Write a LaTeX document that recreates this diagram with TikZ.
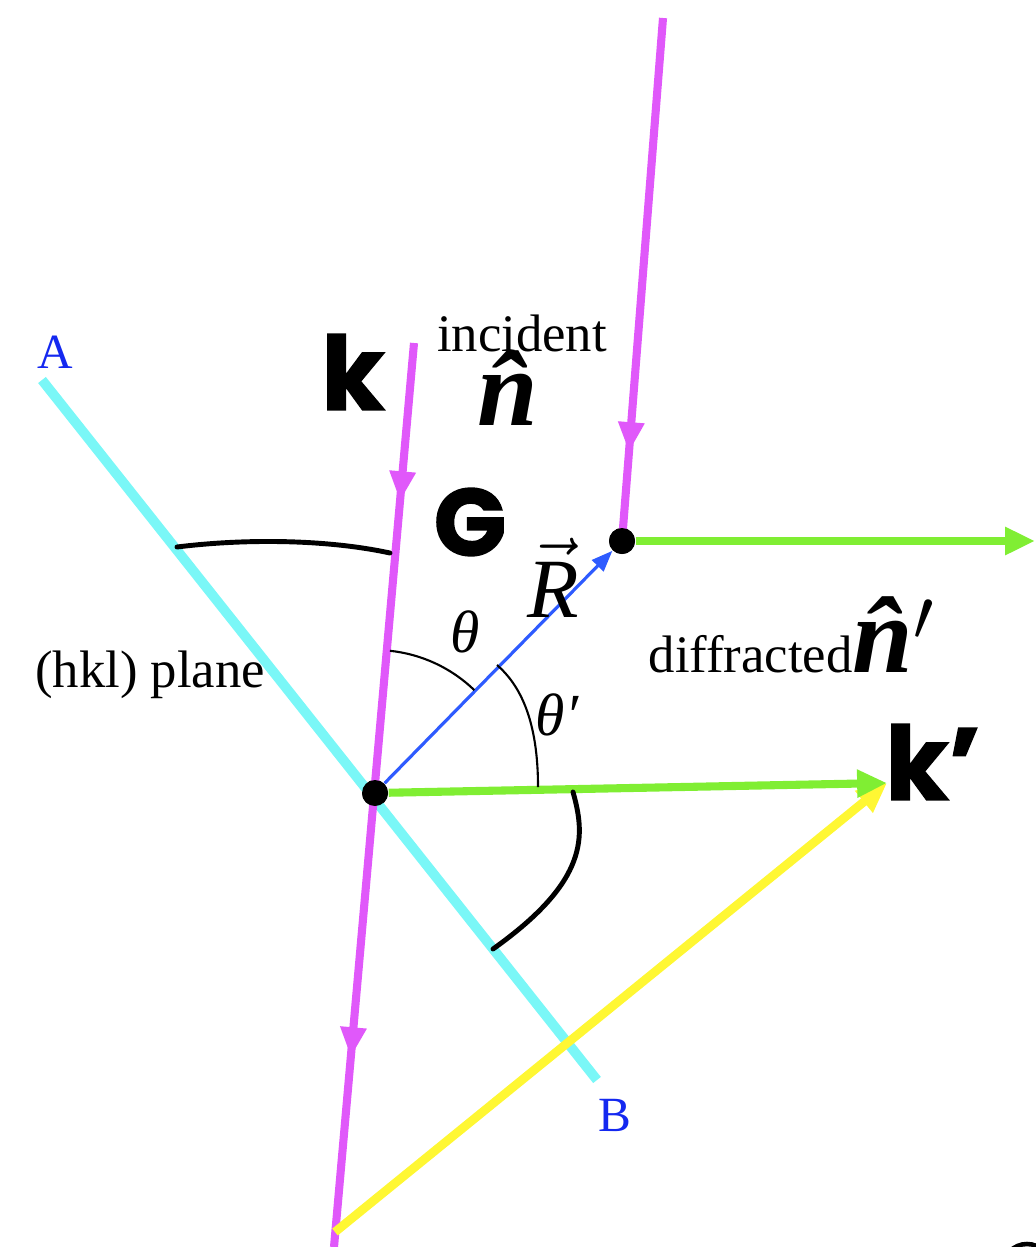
\documentclass[tikz,border=0pt]{standalone}
\usepackage{fontspec}
\setmainfont{Liberation Serif}
\newfontfamily\heavysans{Poppins}[BoldFeatures={FakeBold=1.6}]
\usetikzlibrary{arrows.meta,decorations.markings}

\definecolor{beam}{RGB}{224,88,250}
\definecolor{planecol}{RGB}{122,247,247}
\definecolor{outcol}{RGB}{128,238,51}
\definecolor{kdcol}{RGB}{255,247,51}
\definecolor{rcol}{RGB}{46,91,255}
\definecolor{ptcol}{RGB}{20,40,240}

\tikzset{
  dot/.style={circle, fill=black, inner sep=0pt, minimum size=0.26cm},
  ray/.style={beam, line width=2.3pt},
  midarrow/.style={postaction={decorate, decoration={markings,
      mark=at position #1 with {\arrow{Triangle[length=8.5pt,width=7pt]}}}}},
  bigtip/.style={-{Triangle[length=8.5pt,width=7.5pt]}},
  thinarc/.style={black, line width=0.6pt},
  thickarc/.style={black, line width=1.4pt, line cap=round},
  txt/.style={font=\fontsize{15}{15}\selectfont, inner sep=0pt},
  biglab/.style={font=\heavysans\bfseries\fontsize{27}{27}\selectfont, inner sep=0pt},
  ptlab/.style={text=ptcol, font=\fontsize{14}{14}\selectfont, inner sep=0pt},
  symb/.style={font=\fontsize{#1}{#1}\selectfont\itshape, inner sep=0pt}
}

\begin{document}
\begin{tikzpicture}
   \useasboundingbox (0,0) rectangle (10.35,-12.47);

   \node [dot] (O) at (3.75,-7.93) {};
   \node [dot] (P) at (6.22,-5.41) {};
   \coordinate (A) at (0.42,-3.80);
   \coordinate (B) at (5.97,-10.80);
   \coordinate (ktop) at (4.14,-3.43);
   \coordinate (kbot) at (3.34,-12.47);
   \coordinate (ntop) at (6.63,-0.18);
   \coordinate (kp) at (8.87,-7.83);
   \coordinate (gend) at (10.35,-5.41);
   \coordinate (kstart) at (3.35,-12.32);

   % plane and beams
   \draw[planecol, line width=2.8pt] (A) -- (B);
   \draw[ray, midarrow=0.175, midarrow=0.79] (ktop) -- (kbot);
   \draw[ray, midarrow=0.83] (ntop) -- (P.center);
   \draw[kdcol, line width=2.5pt, bigtip] (kstart) -- (kp);
   \draw[outcol, line width=2.3pt, bigtip] (O) -- (kp);
   \draw[outcol, line width=2.3pt, bigtip] (P) -- (gend);
   \draw[rcol, line width=0.9pt, -{Triangle[length=6pt,width=4.5pt]}] (O) -- (P);
   \node [dot] at (O) {};
   \node [dot] at (P) {};

   % angles
   \draw[thickarc] (1.77,-5.47) .. controls (2.5,-5.38) and (3.3,-5.40) .. (3.90,-5.53);
   \draw[thinarc] ([shift={(84:1.43)}]O.center) arc[start angle=84, end angle=46, radius=1.43];
   \draw[thinarc] (4.97,-6.65) .. controls (5.20,-6.85) and (5.38,-7.20) .. (5.38,-7.87);
   \draw[thickarc] (5.73,-7.92) .. controls (5.85,-8.35) and (5.90,-8.80) .. (4.93,-9.49);

   % labels
   \node[ptlab] (Alab) at (0.55,-3.52) {A};
   \node[ptlab] (Blab) at (6.15,-11.15) {B};
   \node[biglab, font=\heavysans\bfseries\fontsize{29}{29}\selectfont] (klab) at (3.53,-3.72) {k};
   \node[biglab] (Glab) at (4.70,-5.22) {G};
   \node[biglab, font=\heavysans\bfseries\fontsize{29}{29}\selectfont] (kplab) at (9.33,-7.62) {k’};
   \node[txt] (inc) at (5.22,-3.33) {incident};
   \node[symb=31] (nhat) at (5.08,-3.88) {\bfseries\^{n}};
   \node[txt, anchor=base west] (diff) at (6.48,-6.72) {diffracted{\fontsize{31}{31}\selectfont\bfseries\itshape\^{n}$'$}};
   \node[txt] (hkl) at (1.50,-6.75) {(hkl) plane};
   \node[symb=17] (th) at (4.65,-6.32) {θ};
   \node[symb=17] (thp) at (5.57,-7.15) {θ′};
   \node[symb=24] (R) at (5.53,-5.78) {$\vec{\mbox{\textit{R}}}$};

   \draw[line width=1.3pt] (10.27,-12.68) circle (0.24);
\end{tikzpicture}
\end{document}
